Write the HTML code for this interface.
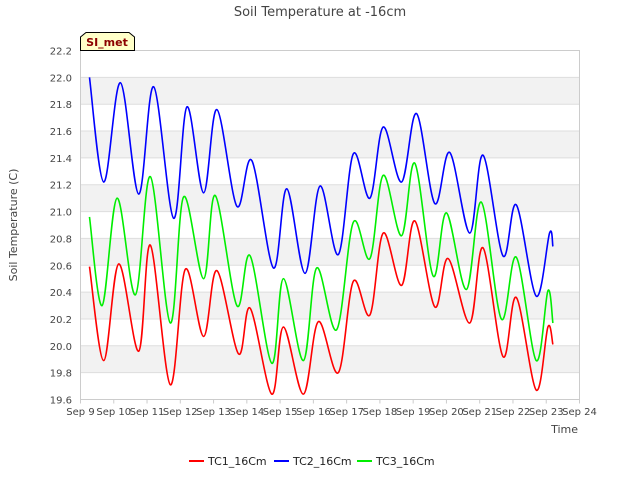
<!DOCTYPE html>
<html><head><meta charset="utf-8"><style>
body{margin:0;background:#fff;font-family:"Liberation Sans",sans-serif}
svg text{font-family:"DejaVu Sans","Liberation Sans",sans-serif}
</style></head><body>
<svg id="c" width="640" height="480" xmlns="http://www.w3.org/2000/svg">
<text x="320" y="16" text-anchor="middle" font-size="13" fill="#444">Soil Temperature at -16cm</text>
<g id="bands"></g><g id="grid"></g><g id="ticks"></g><g id="lines"></g>
<rect x="80.5" y="50.5" width="499" height="349" fill="none" stroke="#ccc"/>
<text transform="translate(17,225) rotate(-90)" text-anchor="middle" font-size="11" fill="#444">Soil Temperature (C)</text>
<text x="578" y="433" text-anchor="end" font-size="11" fill="#444">Time</text>
<g>
<path d="M80.5,50.5 L80.5,37 L86,32.5 L129,32.5 L134.5,37 L134.5,50.5 Z" fill="#ffffc8" stroke="#000"/>
<text x="107" y="46" text-anchor="middle" font-size="11" font-weight="bold" fill="#8b0000">SI_met</text>
</g>
<g>
<g><line x1="189" y1="461" x2="204" y2="461" stroke="#f00" stroke-width="2"/><text x="208" y="465" font-size="11" fill="#222">TC1_16Cm</text></g>
<g><line x1="274" y1="461" x2="289" y2="461" stroke="#00f" stroke-width="2"/><text x="293" y="465" font-size="11" fill="#222">TC2_16Cm</text></g>
<g><line x1="357" y1="461" x2="372" y2="461" stroke="#0e0" stroke-width="2"/><text x="376" y="465" font-size="11" fill="#222">TC3_16Cm</text></g>
</g>
</svg>
<script>
const xTickLabels=["Sep 9","Sep 10","Sep 11","Sep 12","Sep 13","Sep 14","Sep 15","Sep 16","Sep 17","Sep 18","Sep 19","Sep 20","Sep 21","Sep 22","Sep 23","Sep 24"];
const yTickLabels=["19.6","19.8","20.0","20.2","20.4","20.6","20.8","21.0","21.2","21.4","21.6","21.8","22.0","22.2"];
const tc1Days=[0.27,0.7,1.15,1.75,2.1,2.7,3.15,3.7,4.1,4.75,5.1,5.75,6.1,6.7,7.15,7.75,8.2,8.7,9.1,9.65,10.05,10.65,11.05,11.7,12.1,12.7,13.1,13.7,14.05,14.2];
const tc1Vals=[20.59,19.89,20.61,19.96,20.75,19.71,20.57,20.07,20.56,19.94,20.28,19.64,20.14,19.64,20.18,19.8,20.48,20.23,20.84,20.45,20.93,20.29,20.65,20.17,20.73,19.92,20.36,19.67,20.14,20.01];
const tc2Days=[0.27,0.7,1.2,1.75,2.2,2.8,3.2,3.7,4.1,4.7,5.15,5.8,6.2,6.75,7.2,7.75,8.2,8.7,9.1,9.65,10.1,10.65,11.1,11.7,12.1,12.7,13.1,13.7,14.1,14.2];
const tc2Vals=[22.0,21.22,21.96,21.13,21.93,20.95,21.78,21.14,21.76,21.04,21.38,20.58,21.17,20.54,21.19,20.68,21.43,21.1,21.63,21.22,21.73,21.06,21.44,20.84,21.42,20.67,21.05,20.37,20.84,20.74];
const tc3Days=[0.27,0.65,1.1,1.65,2.1,2.7,3.1,3.7,4.05,4.7,5.1,5.75,6.1,6.7,7.1,7.7,8.2,8.7,9.1,9.65,10.05,10.6,11.0,11.6,12.05,12.65,13.1,13.7,14.05,14.2];
const tc3Vals=[20.96,20.3,21.1,20.38,21.26,20.17,21.11,20.5,21.12,20.3,20.67,19.87,20.5,19.89,20.58,20.12,20.92,20.65,21.27,20.82,21.36,20.52,20.99,20.42,21.07,20.2,20.66,19.89,20.41,20.17];
const NS="http://www.w3.org/2000/svg";
const X0=80.5,X1=579.5,Y0=399.5,Y1=50.5,yMin=19.6,yMax=22.2;
const xs=d=>X0+(X1-X0)*d/15;
const ys=v=>Y0-(Y0-Y1)*(v-yMin)/(yMax-yMin);
function mk(t,a,p){const e=document.createElementNS(NS,t);for(const k in a)e.setAttribute(k,a[k]);p.appendChild(e);return e;}
const bands=document.getElementById('bands'),grid=document.getElementById('grid'),ticks=document.getElementById('ticks'),lines=document.getElementById('lines');
yTickLabels.forEach((l,i)=>{const v=parseFloat(l),y=ys(v);
 if(i%2==1&&i<yTickLabels.length-1){const r=mk('rect',{x:X0,y:ys(v+0.2),width:X1-X0,height:y-ys(v+0.2),fill:'#f2f2f2'},bands);
 
 }
 const g=mk('line',{x1:X0,x2:X1,y1:y,y2:y,stroke:'#ddd'},grid);
 
 
 const t=mk('text',{x:72,y:y+4,'text-anchor':'end','font-size':10,fill:'#444'},ticks);t.textContent=l;
 
 
});
xTickLabels.forEach((l,i)=>{const x=xs(i);
 const tk=mk('line',{x1:x,x2:x,y1:Y0,y2:Y0+4,stroke:'#ccc'},ticks);
 
 
 const t=mk('text',{x:x,y:415,'text-anchor':'middle','font-size':10,fill:'#444'},ticks);t.textContent=l;
 
 
});
function smooth(ds,vs){const p=ds.map((d,i)=>[xs(d),ys(vs[i])]);let s='M'+p[0][0]+','+p[0][1];
 for(let i=0;i<p.length-1;i++){const a=p[i-1]||p[i],b=p[i],c=p[i+1],d=p[i+2]||c;
  const c1=[b[0]+(c[0]-a[0])/6,b[1]+(c[1]-a[1])/6],c2=[c[0]-(d[0]-b[0])/6,c[1]-(d[1]-b[1])/6];
  s+=' C'+c1+' '+c2+' '+c;}return s;}
const s1=mk('path',{d:smooth(tc1Days,tc1Vals),fill:'none',stroke:'#f00','stroke-width':1.6},lines);


const s2=mk('path',{d:smooth(tc2Days,tc2Vals),fill:'none',stroke:'#00f','stroke-width':1.6},lines);


const s3=mk('path',{d:smooth(tc3Days,tc3Vals),fill:'none',stroke:'#0e0','stroke-width':1.6},lines);


</script>
</body></html>
